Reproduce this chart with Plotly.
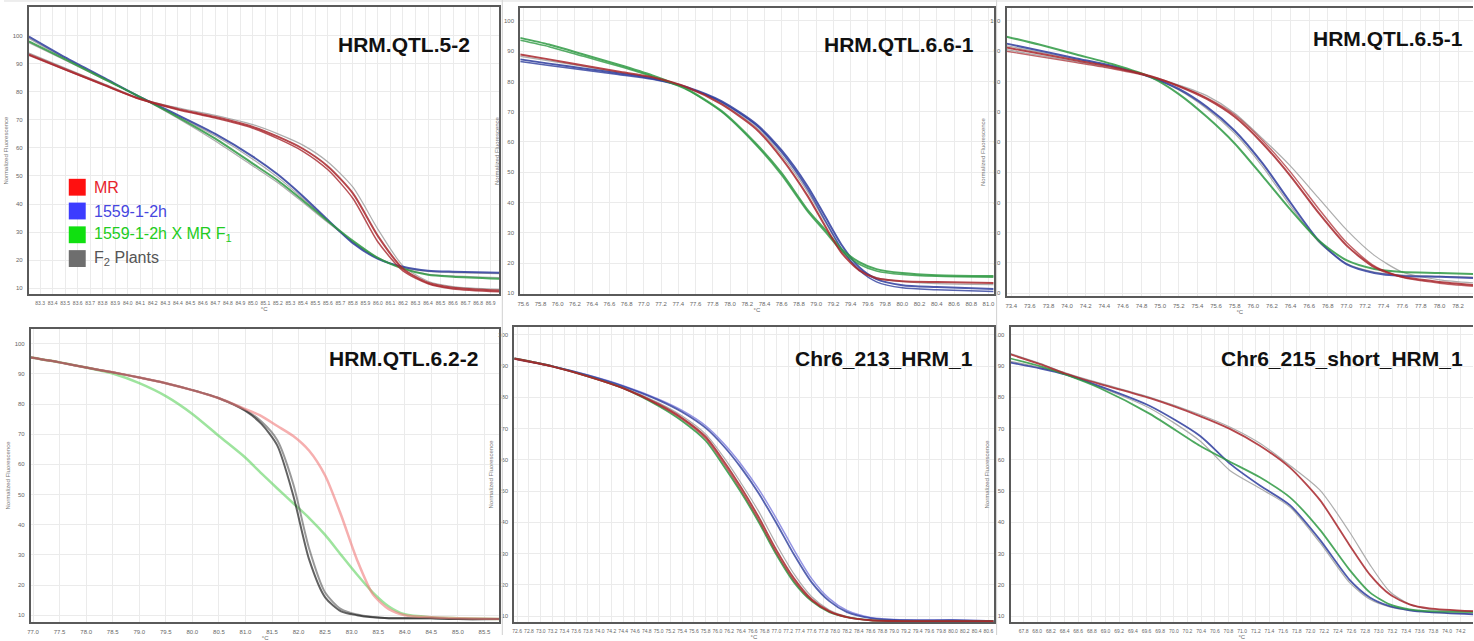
import plotly.graph_objects as go

W, H = 1474, 641

# ---------------- Panel 1 : HRM.QTL.5-2 ----------------
P1_T = [83.21, 83.5, 83.8, 84.1, 84.4, 84.7, 85.0, 85.2, 85.4, 85.6, 85.8, 86.0, 86.2, 86.4, 86.6, 86.97]
P1_MR_A = [93.3, 88.0, 82.7, 77.4, 73.9, 71.0, 67.5, 64.0, 59.7, 53.4, 43.8, 28.6, 17.0, 12.0, 10.2, 9.2]
P1_MR_B = [93.0, 87.8, 82.5, 77.3, 73.6, 70.6, 67.0, 63.3, 58.8, 52.2, 42.0, 26.5, 16.2, 11.6, 9.8, 8.8]
P1_BL_A = [99.6, 92.2, 85.2, 78.1, 71.7, 65.0, 56.9, 50.5, 42.8, 34.3, 26.1, 20.5, 17.7, 16.3, 15.9, 15.5]
P1_GR_A = [97.9, 91.5, 84.8, 78.1, 71.0, 63.3, 54.4, 48.4, 41.3, 33.9, 26.9, 20.8, 17.0, 14.8, 14.1, 13.4]
P1_F2_A = [93.8, 88.4, 83.0, 77.6, 74.3, 71.6, 68.3, 65.0, 61.0, 55.0, 46.0, 31.0, 18.0, 12.5, 10.6, 9.6]
P1_F2_B = [99.0, 91.8, 85.0, 78.0, 71.3, 64.3, 56.0, 49.5, 42.0, 34.0, 26.4, 20.6, 17.4, 16.0, 15.6, 15.2]
P1_F2_C = [97.5, 91.2, 84.6, 78.0, 70.6, 62.5, 53.6, 47.6, 40.6, 33.4, 26.6, 20.9, 17.2, 15.0, 14.4, 13.8]

# ---------------- Panel 2 : HRM.QTL.6.6-1 ----------------
P2_T = [75.565, 75.9, 76.3, 76.7, 77.1, 77.5, 77.9, 78.3, 78.6, 78.9, 79.1, 79.3, 79.5, 79.7, 80.0, 80.4, 81.06]
P2_GR_A = [94.4, 92.2, 88.9, 85.6, 82.0, 77.5, 70.3, 59.5, 49.7, 37.6, 31.1, 24.5, 20.3, 18.0, 16.7, 16.0, 15.7]
P2_GR_B = [93.6, 91.5, 88.3, 85.1, 81.6, 77.2, 70.0, 59.0, 49.0, 37.0, 30.4, 23.8, 19.6, 17.4, 16.2, 15.6, 15.3]
P2_MR_A = [88.9, 87.3, 85.3, 83.3, 81.4, 78.1, 72.5, 64.4, 54.6, 42.2, 32.4, 23.2, 17.6, 15.0, 14.0, 13.7, 13.4]
P2_BL_A = [87.3, 85.9, 84.3, 82.7, 81.0, 78.1, 73.5, 66.0, 57.2, 45.4, 35.6, 25.8, 18.6, 14.7, 12.7, 12.1, 11.4]
P2_BL_B = [86.6, 85.3, 83.8, 82.3, 80.7, 77.9, 73.2, 65.6, 56.5, 44.4, 34.3, 24.5, 17.6, 13.8, 11.8, 11.2, 10.6]
P2_F2_A = [88.3, 86.8, 85.0, 83.0, 81.2, 78.0, 72.8, 65.0, 55.6, 43.6, 33.8, 24.2, 18.0, 15.2, 13.9, 13.2, 12.9]

# ---------------- Panel 3 : HRM.QTL.6.5-1 ----------------
P3_T = [73.35, 73.7, 74.1, 74.5, 74.9, 75.2, 75.5, 75.8, 76.1, 76.4, 76.7, 77.0, 77.3, 77.6, 78.0, 78.36]
P3_GR_A = [94.8, 92.2, 88.9, 85.6, 81.4, 75.8, 68.3, 59.5, 48.7, 37.6, 27.5, 20.9, 18.0, 17.0, 16.7, 16.3]
P3_BL_A = [92.5, 90.2, 87.6, 85.0, 81.4, 77.5, 71.6, 63.7, 52.9, 39.9, 27.5, 19.6, 16.7, 15.7, 15.4, 15.0]
P3_MR_A = [91.2, 89.2, 86.9, 84.6, 81.7, 78.4, 74.2, 68.3, 59.5, 48.7, 36.6, 25.8, 18.6, 15.4, 13.7, 12.7]
P3_MR_B = [90.0, 88.2, 86.2, 84.1, 81.5, 78.5, 74.6, 69.0, 60.5, 50.0, 38.0, 26.8, 19.0, 15.2, 13.3, 12.3]
P3_F2_A = [90.5, 88.6, 86.5, 84.3, 81.7, 78.8, 75.3, 69.5, 61.1, 52.0, 41.5, 31.0, 22.5, 17.0, 14.4, 13.4]
P3_F2_B = [91.8, 89.7, 87.3, 84.8, 81.4, 77.2, 71.0, 62.8, 51.8, 38.8, 27.0, 19.8, 17.0, 16.0, 15.6, 15.3]

# ---------------- Panel 4 : HRM.QTL.6.2-2 ----------------
P4_T = [76.96, 77.5, 78.0, 78.5, 79.0, 79.5, 80.0, 80.5, 81.0, 81.3, 81.6, 81.9, 82.2, 82.5, 82.8, 83.1, 83.4, 83.7, 84.0, 84.5, 85.0, 85.78]
P4_F2_A = [95.4, 93.8, 92.1, 90.5, 88.8, 86.9, 84.6, 81.9, 77.7, 73.4, 66.2, 49.7, 28.4, 15.9, 11.3, 10.0, 9.3, 9.0, 9.0, 9.0, 8.7, 8.7]
P4_F2_B = [95.4, 93.8, 92.1, 90.5, 88.8, 86.9, 84.6, 81.9, 78.0, 74.2, 68.0, 53.5, 32.0, 17.5, 12.0, 10.2, 9.4, 9.0, 9.0, 9.0, 8.7, 8.7]
P4_MR_A = [95.4, 93.8, 92.1, 90.5, 88.8, 86.9, 84.6, 81.9, 78.3, 76.0, 72.7, 69.4, 64.5, 56.3, 43.2, 28.4, 16.9, 12.0, 10.0, 9.3, 9.0, 8.7]
P4_GR_A = [95.4, 93.8, 92.1, 90.1, 86.9, 82.6, 76.7, 69.4, 62.2, 57.0, 52.0, 47.1, 42.2, 36.6, 30.0, 23.5, 17.5, 12.9, 10.3, 9.3, 9.0, 8.7]

# ---------------- Panel 5 : Chr6_213_HRM_1 ----------------
P5_T = [72.55, 73.2, 73.8, 74.4, 75.0, 75.4, 75.8, 76.1, 76.4, 76.7, 77.0, 77.3, 77.6, 77.9, 78.2, 78.6, 79.2, 80.0, 80.69]
P5_GR_A = [92.4, 89.9, 86.7, 82.9, 77.2, 72.4, 66.1, 58.2, 49.6, 40.1, 29.7, 20.8, 14.8, 11.3, 9.7, 8.7, 8.4, 8.4, 8.4]
P5_MR_A = [92.4, 89.9, 86.7, 82.9, 77.8, 73.4, 67.4, 59.8, 51.2, 41.7, 31.2, 22.1, 15.4, 11.6, 9.7, 8.7, 8.4, 8.4, 8.4]
P5_MR_B = [92.2, 89.7, 86.6, 82.8, 77.5, 73.0, 66.8, 59.0, 50.3, 40.8, 30.3, 21.4, 15.0, 11.4, 9.6, 8.7, 8.4, 8.4, 8.4]
P5_BL_A = [92.4, 89.9, 87.0, 83.5, 79.1, 75.3, 70.2, 64.5, 57.5, 49.3, 39.8, 29.7, 20.8, 14.8, 11.3, 9.4, 8.7, 8.7, 8.4]
P5_BL_B = [92.3, 89.9, 87.1, 83.7, 79.4, 75.8, 70.9, 65.4, 58.6, 50.6, 41.3, 31.2, 22.0, 15.6, 11.8, 9.6, 8.8, 8.8, 8.5]
P5_F2_A = [92.4, 89.9, 86.8, 83.1, 78.2, 74.0, 68.2, 61.0, 52.6, 43.5, 33.0, 23.5, 16.2, 12.0, 9.9, 8.8, 8.5, 8.5, 8.4]

# ---------------- Panel 6 : Chr6_215_short_HRM_1 ----------------
P6_T = [67.61, 68.05, 68.41, 68.92, 69.65, 70.38, 70.82, 71.26, 71.70, 72.14, 72.57, 72.87, 73.16, 73.45, 73.74, 74.38]
P6_MR_A = [93.7, 90.5, 87.6, 84.2, 79.7, 74.0, 69.9, 64.5, 57.5, 47.1, 32.8, 23.3, 17.0, 13.8, 12.5, 11.6]
P6_BL_A = [91.1, 89.2, 87.3, 83.5, 77.2, 67.7, 58.8, 51.8, 45.5, 34.4, 21.7, 16.0, 13.2, 11.9, 11.3, 10.6]
P6_GR_A = [92.4, 89.9, 87.3, 82.9, 74.7, 64.5, 59.4, 54.4, 48.0, 37.6, 24.9, 17.6, 13.8, 12.2, 11.6, 11.3]
P6_F2_A = [94.0, 90.8, 87.8, 84.5, 80.0, 74.5, 70.5, 65.3, 58.2, 50.3, 37.0, 26.5, 17.9, 13.8, 12.2, 11.6]
P6_F2_B = [91.5, 89.5, 87.3, 83.2, 76.5, 66.1, 56.6, 50.9, 44.9, 33.5, 20.8, 15.4, 13.0, 11.9, 11.3, 10.8]

TITLES = ["HRM.QTL.5-2", "HRM.QTL.6.6-1", "HRM.QTL.6.5-1",
          "HRM.QTL.6.2-2", "Chr6_213_HRM_1", "Chr6_215_short_HRM_1"]
LEGEND_LABELS = ["MR", "1559-1-2h", "1559-1-2h X MR F<sub>1</sub>", "F<sub>2</sub> Plants"]

# ---------------- styles ----------------
RED, BLUE, GREEN, GRAY = "#a8262c", "#2f3e9e", "#2f9a44", "#9a9a9a"
LEG_SQ = ["#ff1010", "#3c3cff", "#10e010", "#6e6e6e"]
LEG_TX = ["#e8242c", "#4646e0", "#22cc22", "#555555"]

# pixel frames of each plot area: left, right, top, bottom
FRAMES = [(25, 497, 7, 297), (518, 993, 8, 297), (1006, 1474, 8, 299),
          (27, 497, 332, 628), (512, 993, 330, 628), (1010, 1474, 330, 628)]
XR = [(83.21, 86.97), (75.565, 81.06), (73.35, 78.36), (76.96, 85.78), (72.55, 80.69), (67.61, 74.38)]
YR = [(7.9, 110.2), (9.7, 104.3), (9.0, 104.3), (7.7, 104.9), (8.1, 102.5), (8.1, 102.5)]
XT0 = [83.3, 75.6, 73.4, 77.0, 72.6, 67.8]
XDT = [0.1, 0.2, 0.2, 0.5, 0.2, 0.2]
XFS = [5, 6, 6, 6, 5, 5]
TITLE_POS = [(470, 45), (975, 45), (1466, 39), (478, 362), (974, 362), (1466, 362)]

PANELS = [
    [(P1_T, P1_F2_A, GRAY, 1.2, 0.8), (P1_T, P1_F2_B, GRAY, 1.2, 0.8), (P1_T, P1_F2_C, GRAY, 1.2, 0.8),
     (P1_T, P1_BL_A, BLUE, 2.0, 0.85), (P1_T, P1_GR_A, GREEN, 2.0, 0.85),
     (P1_T, P1_MR_B, RED, 1.5, 0.8), (P1_T, P1_MR_A, RED, 2.0, 0.85)],
    [(P2_T, P2_F2_A, GRAY, 1.2, 0.8), (P2_T, P2_BL_B, BLUE, 1.5, 0.8), (P2_T, P2_BL_A, BLUE, 2.0, 0.85),
     (P2_T, P2_GR_B, GREEN, 1.5, 0.8), (P2_T, P2_GR_A, GREEN, 2.0, 0.85), (P2_T, P2_MR_A, RED, 2.0, 0.85)],
    [(P3_T, P3_F2_A, GRAY, 1.2, 0.8), (P3_T, P3_F2_B, GRAY, 1.2, 0.8), (P3_T, P3_BL_A, BLUE, 2.0, 0.85),
     (P3_T, P3_GR_A, GREEN, 2.0, 0.85), (P3_T, P3_MR_B, RED, 1.4, 0.7), (P3_T, P3_MR_A, RED, 2.0, 0.85)],
    [(P4_T, P4_GR_A, "#5fd35f", 2.5, 0.6), (P4_T, P4_F2_B, "#555555", 2.0, 0.6),
     (P4_T, P4_F2_A, "#222222", 2.0, 0.7), (P4_T, P4_MR_A, "#f07a7a", 2.5, 0.6)],
    [(P5_T, P5_F2_A, GRAY, 1.2, 0.8), (P5_T, P5_BL_B, "#6a6ad8", 1.5, 0.7), (P5_T, P5_BL_A, BLUE, 1.8, 0.8),
     (P5_T, P5_GR_A, GREEN, 1.8, 0.85), (P5_T, P5_MR_B, RED, 1.4, 0.7), (P5_T, P5_MR_A, RED, 1.8, 0.85)],
    [(P6_T, P6_F2_A, GRAY, 1.2, 0.8), (P6_T, P6_F2_B, GRAY, 1.2, 0.8), (P6_T, P6_BL_A, BLUE, 1.8, 0.85),
     (P6_T, P6_GR_A, GREEN, 1.8, 0.85), (P6_T, P6_MR_A, RED, 1.8, 0.85)],
]

fig = go.Figure()
layout = dict(width=W, height=H, margin=dict(l=0, r=0, t=0, b=0),
              paper_bgcolor="white", plot_bgcolor="white", showlegend=False,
              font=dict(family="Liberation Sans, Arial, sans-serif"))
annotations, shapes = [], []

for i in range(6):
    n = i + 1
    sfx = "" if n == 1 else str(n)
    l, r, t, b = FRAMES[i]
    right_edge = r >= W
    for xs, ys, col, wd, op in PANELS[i]:
        fig.add_trace(go.Scatter(x=xs, y=ys, mode="lines", xaxis="x" + sfx, yaxis="y" + sfx,
                                 line=dict(color=col, width=wd, shape="spline", smoothing=0.7),
                                 opacity=op, hoverinfo="skip"))
    layout["xaxis" + sfx] = dict(
        domain=[l / W, min(r / W, 1.0)], anchor="y" + sfx, range=list(XR[i]),
        tick0=XT0[i], dtick=XDT[i], tickformat=".1f", tickangle=0, showgrid=True, gridcolor="#ebebeb",
        gridwidth=1, zeroline=False, showline=True, linecolor="#5a5a5a", linewidth=2,
        mirror=True, ticks="outside", ticklen=3, tickcolor="#ffffff",
        tickfont=dict(size=XFS[i], color="#666666"),
        title=dict(text="°C", font=dict(size=6, color="#666666"), standoff=1))
    layout["yaxis" + sfx] = dict(
        domain=[1 - b / H, 1 - t / H], anchor="x" + sfx, range=list(YR[i]),
        tickvals=[10, 20, 30, 40, 50, 60, 70, 80, 90, 100], showgrid=True, gridcolor="#ebebeb",
        zeroline=False, showline=True, linecolor="#5a5a5a", linewidth=2,
        mirror=(not right_edge), ticks="outside", ticklen=3, tickcolor="#ffffff",
        tickfont=dict(size=6, color="#666666"),
        title=dict(text="Normalized Fluorescence", font=dict(size=6, color="#777777"), standoff=4))
    tx, ty = TITLE_POS[i]
    annotations.append(dict(xref="paper", yref="paper", x=tx / W, y=1 - ty / H,
                            xanchor="right", yanchor="middle", showarrow=False,
                            text="<b>" + TITLES[i] + "</b>",
                            font=dict(size=21, color="#111111", family="Liberation Sans, Arial")))

# screenshot separators
for sx in (500, 996):
    shapes.append(dict(type="line", xref="paper", yref="paper", x0=sx / W, x1=sx / W,
                       y0=0, y1=1, line=dict(color="#d0d0d0", width=1)))
shapes.append(dict(type="line", xref="paper", yref="paper", x0=0, x1=1, y0=1 - 1 / H, y1=1 - 1 / H,
                   line=dict(color="#dddddd", width=1)))

# legend in panel 1
for k in range(4):
    cy = 189 + 24 * k
    shapes.append(dict(type="rect", xref="paper", yref="paper",
                       x0=65 / W, x1=82 / W, y0=1 - (cy + 8.5) / H, y1=1 - (cy - 8.5) / H,
                       fillcolor=LEG_SQ[k], line=dict(width=0)))
    annotations.append(dict(xref="paper", yref="paper", x=88 / W, y=1 - cy / H,
                            xanchor="left", yanchor="middle", showarrow=False,
                            text=LEGEND_LABELS[k],
                            font=dict(size=16, color=LEG_TX[k], family="Liberation Sans, Arial")))

layout["annotations"] = annotations
layout["shapes"] = shapes
fig.update_layout(**layout)
fig.write_html("out.html")
